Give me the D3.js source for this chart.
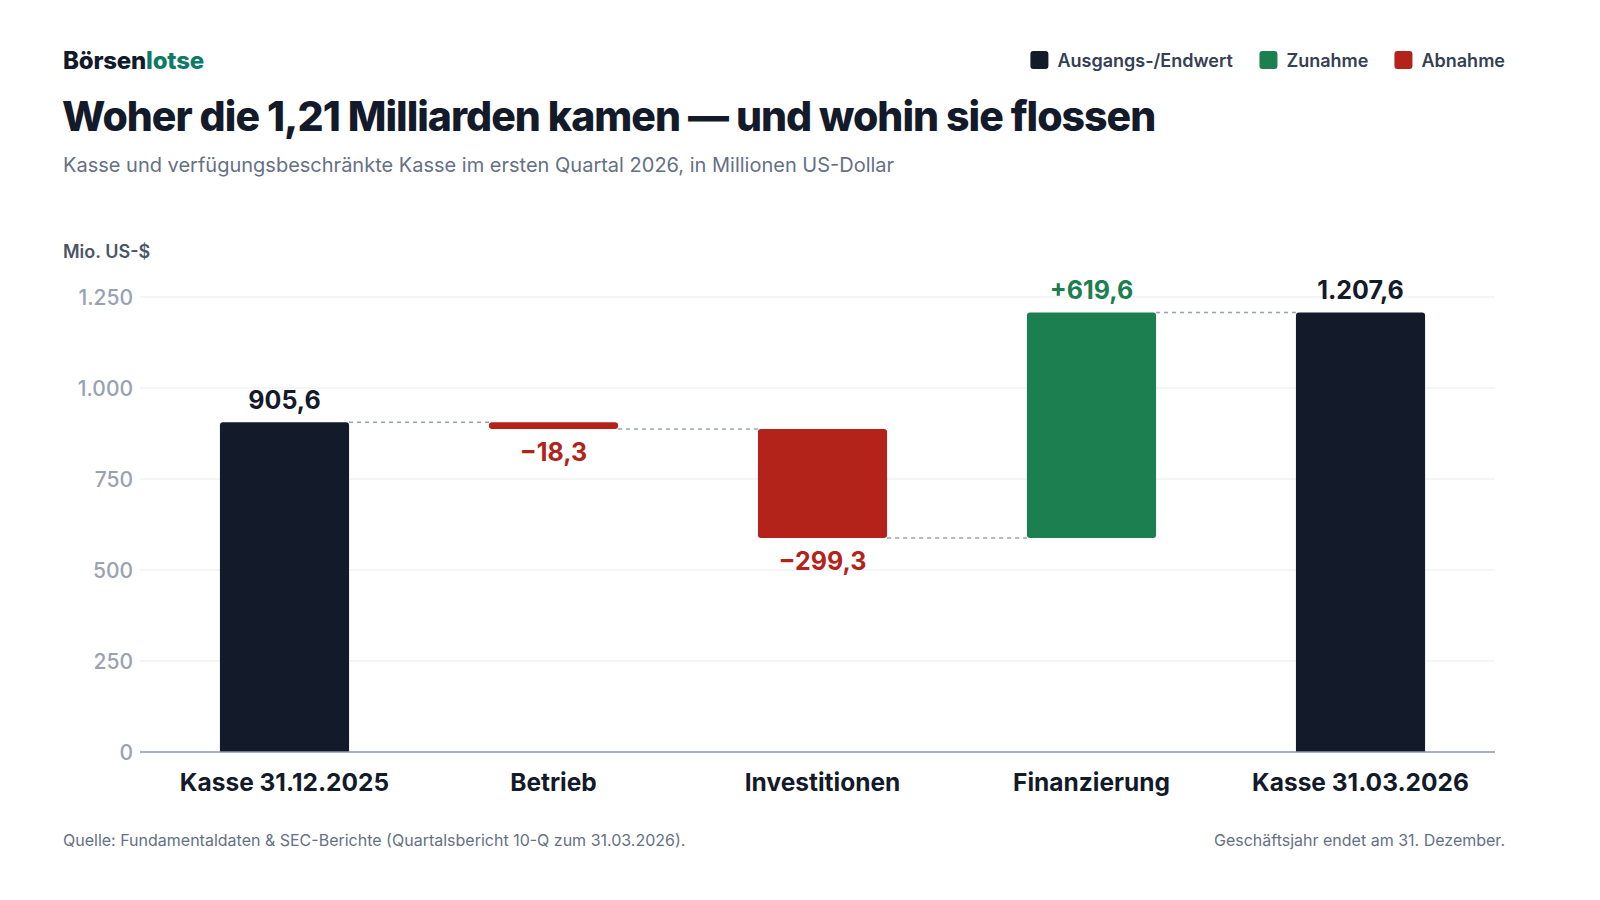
<!DOCTYPE html>
<html>
<head>
<meta charset="utf-8">
<script src="https://cdn.jsdelivr.net/npm/d3@7"></script>
<style>
  html, body { margin: 0; padding: 0; background: #fff; overflow: hidden; }
  svg { display: block; font-family: Inter, "Noto Sans", sans-serif; }
</style>
</head>
<body>
<svg id="chart" width="1600" height="900"></svg>
<script>
// waterfall data, Mio. US-$
const categories = ['Kasse 31.12.2025', 'Betrieb', 'Investitionen', 'Finanzierung', 'Kasse 31.03.2026']
const values = [905.6, -18.3, -299.3, 619.6, 1207.6]
const kinds = ['total', 'delta', 'delta', 'delta', 'total']
const yTicks = [0, 250, 500, 750, 1000, 1250]
const legendItems = ['Ausgangs-/Endwert', 'Zunahme', 'Abnahme']

const colors = { total: '#131a29', up: '#1b7f4f', down: '#b4231a' }

const margin = { top: 297, right: 105, bottom: 148, left: 150 }
const width = 1600 - margin.left - margin.right
const height = 900 - margin.top - margin.bottom

const fmt = v => {
  const s = Math.abs(v).toFixed(1).split('.')
  const int = s[0].replace(/\B(?=(\d{3})+(?!\d))/g, '.')
  return int + ',' + s[1]
}

// running totals
let run = 0
const data = categories.map((c, i) => {
  let y0, y1, color, label
  if (kinds[i] === 'total') {
    y0 = 0; y1 = values[i]; run = values[i]
    color = colors.total; label = fmt(values[i])
  } else {
    y0 = run; y1 = run + values[i]; run = y1
    color = values[i] >= 0 ? colors.up : colors.down
    label = (values[i] >= 0 ? '+' : '\u2212') + fmt(values[i])
  }
  return { cat: c, y0, y1, color, label, value: values[i], kind: kinds[i] }
})

const svg = d3.select('#chart')

const x = d3.scaleBand()
  .domain(categories)
  .range([0, width])
  .paddingInner(0.52)
  .paddingOuter(0.26)

const y = d3.scaleLinear()
  .domain([0, 1250])
  .range([height, 0])

const g = svg.append('g')
  .attr('transform', `translate(${margin.left}, ${margin.top})`)

// grid
g.append('g')
  .selectAll('line')
  .data(yTicks.filter(t => t > 0))
  .enter().append('line')
  .attr('x1', -10).attr('x2', width)
  .attr('y1', d => y(d)).attr('y2', d => y(d))
  .attr('stroke', '#e8ebf0')
  .attr('stroke-width', 1.2)

// y labels
g.append('g')
  .selectAll('text')
  .data(yTicks)
  .enter().append('text')
  .attr('x', -17)
  .attr('y', d => y(d))
  .attr('dy', '0.36em')
  .attr('text-anchor', 'end')
  .attr('fill', '#98a2b3')
  .attr('font-size', 21)
  .attr('font-weight', 500)
  .text(d => d3.format(',')(d).replace(/,/g, '.'))

// connectors
const conn = g.append('g')
data.forEach((d, i) => {
  if (i === data.length - 1) return
  conn.append('line')
    .attr('x1', x(d.cat) + x.bandwidth())
    .attr('x2', x(categories[i + 1]))
    .attr('y1', y(d.y1)).attr('y2', y(d.y1))
    .attr('stroke', '#9aa1b0')
    .attr('stroke-width', 1.5)
    .attr('stroke-dasharray', '4,4')
})

// bars: rounded top corners only
const r = 3
function barPath(d) {
  const x0 = x(d.cat), w = x.bandwidth()
  const top = y(Math.max(d.y0, d.y1)), bot = y(Math.min(d.y0, d.y1))
  const rr = Math.min(r, (bot - top) / 2)
  if (d.kind === 'total') {
    return `M${x0},${bot} L${x0},${top + rr} Q${x0},${top} ${x0 + rr},${top} L${x0 + w - rr},${top} Q${x0 + w},${top} ${x0 + w},${top + rr} L${x0 + w},${bot} Z`
  }
  return `M${x0},${bot - rr} L${x0},${top + rr} Q${x0},${top} ${x0 + rr},${top} L${x0 + w - rr},${top} Q${x0 + w},${top} ${x0 + w},${top + rr} L${x0 + w},${bot - rr} Q${x0 + w},${bot} ${x0 + w - rr},${bot} L${x0 + rr},${bot} Q${x0},${bot} ${x0},${bot - rr} Z`
}

g.append('g')
  .selectAll('path')
  .data(data)
  .enter().append('path')
  .attr('d', barPath)
  .attr('fill', d => d.color)

// value labels
g.append('g')
  .selectAll('text')
  .data(data)
  .enter().append('text')
  .attr('x', d => x(d.cat) + x.bandwidth() / 2)
  .attr('y', d => d.value >= 0 ? y(Math.max(d.y0, d.y1)) - 13 : y(Math.min(d.y0, d.y1)) + 32)
  .attr('text-anchor', 'middle')
  .attr('font-size', 25)
  .attr('font-weight', 700)
  .attr('fill', d => d.kind === 'total' ? colors.total : d.color)
  .text(d => d.label)

// axis baseline
g.append('line')
  .attr('x1', -10).attr('x2', width)
  .attr('y1', height).attr('y2', height)
  .attr('stroke', '#8e97a8')
  .attr('stroke-width', 1.6)

// category labels
g.append('g')
  .selectAll('text')
  .data(categories)
  .enter().append('text')
  .attr('x', d => x(d) + x.bandwidth() / 2)
  .attr('y', height + 39)
  .attr('text-anchor', 'middle')
  .attr('font-size', 24.5)
  .attr('font-weight', 700)
  .attr('fill', '#131a29')
  .text(d => d)

// header
const brand = svg.append('text')
  .attr('x', 63).attr('y', 69)
  .attr('font-size', 24)
  .attr('font-weight', 800)
  .attr('letter-spacing', -0.2)
brand.append('tspan').attr('fill', '#131a29').text('Börsen')
brand.append('tspan').attr('fill', '#0f7a66').text('lotse')

svg.append('text')
  .attr('x', 62).attr('y', 131)
  .attr('font-size', 41)
  .attr('font-weight', 800)
  .attr('letter-spacing', -1)
  .attr('fill', '#131a29')
  .text('Woher die 1,21 Milliarden kamen \u2014 und wohin sie flossen')

svg.append('text')
  .attr('x', 63).attr('y', 172)
  .attr('font-size', 20)
  .attr('fill', '#667085')
  .text('Kasse und verfügungsbeschränkte Kasse im ersten Quartal 2026, in Millionen US-Dollar')

svg.append('text')
  .attr('x', 63).attr('y', 258)
  .attr('font-size', 18)
  .attr('font-weight', 600)
  .attr('fill', '#4b5568')
  .text('Mio. US-$')

// legend, right aligned
const legendColors = [colors.total, colors.up, colors.down]
const legend = svg.append('g')
const items = legend.selectAll('g')
  .data(legendItems)
  .enter().append('g')
items.append('rect')
  .attr('width', 18).attr('height', 18)
  .attr('rx', 3)
  .attr('y', 51)
  .attr('fill', (d, i) => legendColors[i])
items.append('text')
  .attr('x', 27).attr('y', 67)
  .attr('font-size', 18)
  .attr('font-weight', 600)
  .attr('fill', '#344054')
  .text(d => d)
let cursor = 1505
const nodes = items.nodes().reverse()
nodes.forEach(n => {
  const w = n.getBBox().width
  cursor -= w
  d3.select(n).attr('transform', `translate(${cursor}, 0)`)
  cursor -= 26
})

// footer
svg.append('text')
  .attr('x', 63).attr('y', 846)
  .attr('font-size', 16)
  .attr('fill', '#667085')
  .text('Quelle: Fundamentaldaten & SEC-Berichte (Quartalsbericht 10-Q zum 31.03.2026).')

svg.append('text')
  .attr('x', 1505).attr('y', 846)
  .attr('text-anchor', 'end')
  .attr('font-size', 16)
  .attr('fill', '#667085')
  .text('Geschäftsjahr endet am 31. Dezember.')
</script>
</body>
</html>
